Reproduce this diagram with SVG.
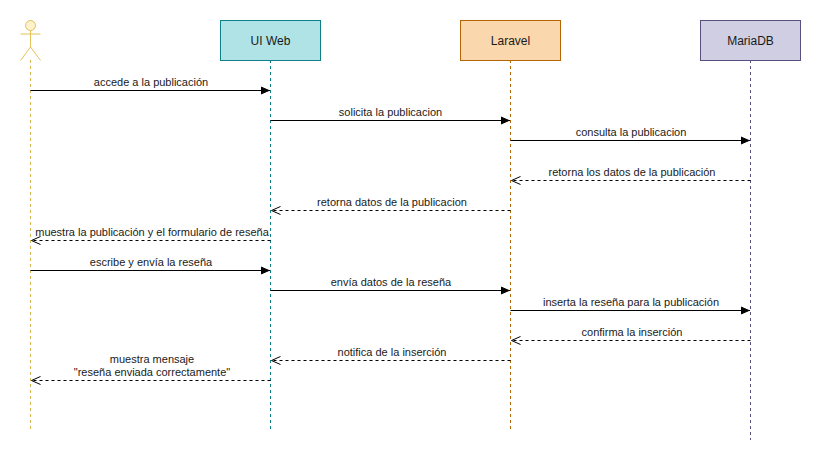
<svg xmlns="http://www.w3.org/2000/svg" width="821" height="461" viewBox="0 0 821 461">
<style>
text{font-family:"Liberation Sans",Arial,sans-serif;text-anchor:middle;fill:#1a1a1a}
.n{font-size:12px}
.m{font-size:11px}
.l{fill:none;stroke-dasharray:3 3}
.s{fill:none;stroke:#000;stroke-width:1}
.d{fill:none;stroke:#000;stroke-width:1;stroke-dasharray:3 3}
.sync{marker-end:url(#solid)}
.ret{marker-end:url(#open)}
</style>
<defs>
<marker id="solid" markerUnits="userSpaceOnUse" markerWidth="10" markerHeight="10" refX="9" refY="4" orient="auto" viewBox="0 0 10 8"><path d="M0 0.500L8 4L0 7.500Z" fill="#000" stroke="#000"/></marker>
<marker id="open" markerUnits="userSpaceOnUse" markerWidth="12" markerHeight="10" refX="10.500" refY="5" orient="auto" viewBox="0 0 12 10"><path d="M1 1L10 5L1 9" fill="none" stroke="#000"/></marker>
</defs>
<rect width="821" height="461" fill="#fff"/>
<g id="actor">
<path class="l" d="M30.500 60V430" stroke="#d6b656"/>
<g fill="none" stroke="#e5c158">
<ellipse cx="30.500" cy="25.500" rx="5" ry="5" fill="#fff2cc"/>
<path d="M30.500 30.500V47M30.500 34H20.500M30.500 34H40.500M30.500 47L20.500 60.500M30.500 47L40.500 60.500"/>
</g>
</g>
<g id="ui-web">
<path class="l" d="M270.500 60V430" stroke="#0e8088"/>
<rect x="220.500" y="20.500" width="100" height="40" fill="#b0e3e6" stroke="#0e8088"/>
<text class="n" x="270.500" y="45">UI Web</text>
</g>
<g id="laravel">
<path class="l" d="M510.500 60V430" stroke="#b46504"/>
<rect x="460.500" y="20.500" width="100" height="40" fill="#fad7ac" stroke="#b46504"/>
<text class="n" x="510.500" y="45">Laravel</text>
</g>
<g id="mariadb">
<path class="l" d="M750.500 60V440" stroke="#56517e"/>
<rect x="700.500" y="20.500" width="100" height="40" fill="#d0cee2" stroke="#56517e"/>
<text class="n" x="750.500" y="45">MariaDB</text>
</g>
<g id="connectors">
<path class="s sync" d="M30.500 90.500H270"/>
<path class="s sync" d="M270.500 120.500H510"/>
<path class="s sync" d="M510.500 140.500H750"/>
<path class="d ret" d="M750.500 180.500H511"/>
<path class="d ret" d="M510.500 210.500H271"/>
<path class="d ret" d="M270.500 240.500H31"/>
<path class="s sync" d="M30.500 270.500H270"/>
<path class="s sync" d="M270.500 290.500H510"/>
<path class="s sync" d="M510.500 310.500H750"/>
<path class="d ret" d="M750.500 340.500H511"/>
<path class="d ret" d="M510.500 360.500H271"/>
<path class="d ret" d="M270.500 380.500H31"/>
<g class="m">
<text x="151" y="86">accede a la publicación</text>
<text x="390.500" y="116">solicita la publicacion</text>
<text x="631" y="136">consulta la publicacion</text>
<text x="632" y="176">retorna los datos de la publicación</text>
<text x="392" y="206">retorna datos de la publicacion</text>
<text x="152" y="236">muestra la publicación y el formulario de reseña</text>
<text x="151" y="266">escribe y envía la reseña</text>
<text x="391" y="286">envía datos de la reseña</text>
<text x="631" y="306">inserta la reseña para la publicación</text>
<text x="632" y="336">confirma la inserción</text>
<text x="392" y="356">notifica de la inserción</text>
<text x="152" y="363">muestra mensaje</text>
<text x="152" y="376">"reseña enviada correctamente"</text>
</g>
</g>
</svg>
